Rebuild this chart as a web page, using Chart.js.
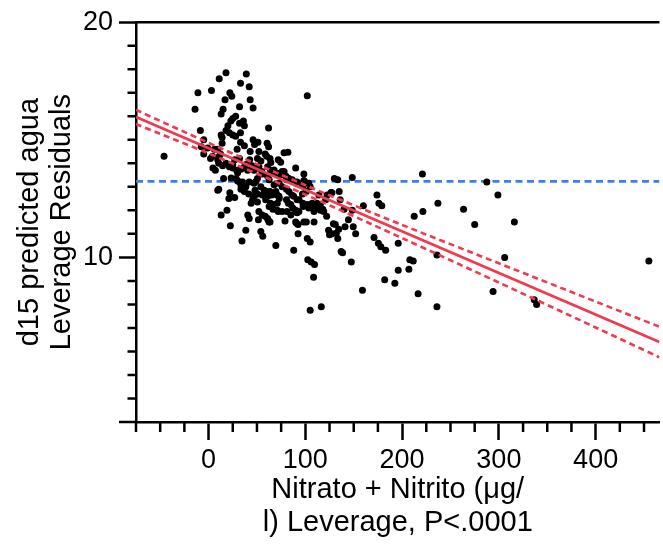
<!DOCTYPE html>
<html>
<head>
<meta charset="utf-8">
<script src="https://cdn.jsdelivr.net/npm/chart.js@4.4.1/dist/chart.umd.min.js"></script>
<style>
html,body{margin:0;padding:0;background:#fff;}
#wrap{width:663px;height:544px;}
</style>
</head>
<body>
<div id="wrap"><canvas id="c" width="663" height="544"></canvas></div>
<script>
// ---- data ----
const xVals = [
-46,-11,-14,-8.5,-5,3,11,18,17,22,24,33,39,42,43,46,32,15,13,62,102,28,25,23,32,36,37,20,18,21.5,25,13,14,46,51,47.5,33,37,60.5,62,-7.5,14,6,29.5,43,52,-1,28,33,9.5,12.3,
58.5,60,78,82,-5,4,2,11,9.5,32,27,42.5,50.5,54,63.5,72,74.5,90,4.5,7,10.5,14.5,21.5,25,29,37,33.5,45,47,52,55,61,64,68,73,76,80,83,86.5,91.5,97,99.5,15.5,30,35,10.5,33.5,18,25,38.7,40.3,30,23.3,98.5,148.5,130,133.5,75.5,78,80.5,50.5,55.5,61,28.5,221,287.5,
64.3,50.6,67.7,71,78,81.3,98.5,97.7,48.9,62.6,67.7,
103.5,105,73,76,80.5,54,57.5,55.5,48,50.5,47,45.5,50.5,41.5,44,38.5,42,47,33.5,35,37,32,9.5,22,27,21,19,13,22.5,38.5,34.5,56,69.5,51.5,58.5,61.5,63.5,66.5,72,79,88,92.5,90,91,92.5,98.5,101,109,102,105,102.5,106,109.5,108.5,105,116.5,159,147.5,171,175.5,178,183,182,192.5,196,207,
174,176,179,160,127.5,135,136,140,148.5,144.5,149.5,152,141,131,134.5,124,127.5,133.5,137,138.5,122,112,115.5,118,119,122.5,121,114,97,101,93.5,97.5,102,103.5,107,110,109,88,91.5,83,86,80.5,82.5,85,87,90,91.5,69.5,71,63.5,65.5,61,59,64,66.5,71,73,52,55.5,61,62.5,76,81,85,40.5,42,54,
299,237,221.5,212.5,263.5,275,316,196,208,211.5,216.5,236,236,306,294,336.5,339,455,
93.3,97.7,115.6,60.8,72.8,62.6,71,126.5,129,125,132
];
const yVals = [
14.3,17.0,16.3,15.4,15.0,17.1,17.6,17.85,16.7,17.0,16.85,17.4,17.8,17.25,16.7,16.35,16.4,16.3,16.1,15.5,16.87,16.0,15.9,15.8,15.7,15.8,15.6,15.6,15.4,15.3,15.2,15.2,15.1,15.0,14.9,14.8,14.9,14.75,14.85,14.7,14.7,14.85,14.6,14.6,14.5,14.5,14.65,15.15,15.3,14.6,14.4,
14.4,14.3,14.45,14.47,14.4,14.3,14.2,14.3,14.15,14.2,14.15,14.15,14.2,14.1,14.2,14.15,14.05,13.8,13.8,13.7,14.0,13.9,13.85,13.8,13.7,13.85,13.75,13.9,13.7,13.85,13.65,13.85,13.7,13.6,13.5,13.65,13.45,13.35,13.3,13.2,13.1,13.2,13.35,13.25,13.2,12.9,12.9,14.0,13.95,13.95,13.7,13.6,13.37,13.55,13.4,13.35,13.3,13.55,13.65,13.3,13.35,13.55,13.45,13.35,13.55,13.2,
14.03,13.8,13.72,13.58,13.5,13.37,13.27,13.04,13.23,13.3,13.09,
13.15,13.0,13.15,13.0,12.9,13.0,12.85,12.65,12.85,12.7,12.6,12.45,12.35,12.7,12.3,13.0,13.2,13.15,13.05,12.95,12.8,13.2,12.85,12.75,12.55,12.5,12.0,11.8,11.35,11.15,10.7,10.9,10.5,11.6,11.75,11.6,11.5,12.05,11.95,11.55,10.3,11.0,11.5,11.45,11.4,11.5,11.5,11.5,10.8,10.65,9.9,9.8,9.7,9.15,7.75,7.9,8.6,9.8,10.85,10.6,10.45,10.3,9.05,8.9,9.45,9.5,
12.65,12.3,12.2,12.2,12.75,12.8,12.45,12.05,12.0,11.6,11.3,11.0,11.3,11.4,11.2,11.15,11.0,10.8,10.25,10.2,11.75,12.3,12.25,12.05,11.95,12.65,12.45,12.65,12.7,12.8,12.45,12.3,12.25,12.1,12.3,12.1,11.95,12.6,12.45,12.8,12.65,12.45,12.3,12.25,12.1,12.0,11.9,12.8,12.65,12.8,12.65,12.6,12.45,12.3,12.25,12.3,12.5,11.95,11.8,11.65,11.5,11.95,11.95,11.8,11.8,11.65,11.1,
12.65,12.3,11.95,11.75,12.05,11.4,11.5,10.6,9.9,9.85,8.45,10.1,7.9,10.0,8.55,8.2,8.0,9.85,
11.95,12.16,12.0,12.8,12.6,12.16,12.0,12.76,11.43,10.96,11.03
];
// regression fit and confidence curves
const fitX   = [-75, 466];
const fitY   = [15.97, 6.40];
const bandX  = [-75, 0, 100, 200, 300, 400, 466];
const bandUp = [16.27, 14.87, 13.07, 11.38, 9.75, 8.12, 7.05];
const bandLo = [15.67, 14.42, 12.67, 10.82, 8.93, 7.02, 5.75];
const meanX  = [-75, 466];
const meanY  = [13.23, 13.23];
// ticks
const xTicks = [0, 100, 200, 300, 400];
const xMinor = [-75, -50, -25, 25, 50, 75, 125, 150, 175, 225, 250, 275, 325, 350, 375, 425, 450];
const yTicks = [10, 20];
const yMinor = [4, 5, 6, 7, 8, 9, 11, 12, 13, 14, 15, 16, 17, 18, 19];
const xTitle = ['Nitrato + Nitrito (\u03bcg/', 'l) Leverage, P<.0001'];
const yTitle = ['d15 predicted agua', 'Leverage Residuals'];

const RED = '#ef3a4f';
const BLUE = '#3a7ff0';
const FONT = '"Liberation Sans", Arial, Helvetica, sans-serif';

const pts = xVals.map((x, i) => ({x: x, y: yVals[i]}));
const toXY = (xs, ys) => xs.map((x, i) => ({x: x, y: ys[i]}));

const extraAxis = {
  id: 'extraAxis',
  afterDraw(chart) {
    const {ctx, chartArea: ca, scales: {x, y}} = chart;
    ctx.save();
    ctx.strokeStyle = '#000';
    ctx.lineWidth = 2.5;
    ctx.beginPath();
    xMinor.forEach(v => {
      const px = x.getPixelForValue(v);
      ctx.moveTo(px, ca.bottom);
      ctx.lineTo(px, ca.bottom + 10);
    });
    yMinor.forEach(v => {
      const py = y.getPixelForValue(v);
      ctx.moveTo(ca.left, py);
      ctx.lineTo(ca.left - 8.5, py);
    });
    const pb = y.getPixelForValue(3);
    ctx.moveTo(ca.left, pb);
    ctx.lineTo(ca.left - 17, pb);
    ctx.moveTo(ca.left, ca.top);
    ctx.lineTo(ca.right, ca.top);
    ctx.stroke();
    ctx.restore();
  }
};

new Chart(document.getElementById('c'), {
  type: 'scatter',
  data: {
    datasets: [
      {data: pts, pointRadius: 3.5, pointHoverRadius: 3.5, backgroundColor: '#000', borderWidth: 0, order: 1},
      {type: 'line', data: toXY(fitX, fitY), borderColor: RED, borderWidth: 2.8, pointRadius: 0, fill: false, order: 0},
      {type: 'line', data: toXY(bandX, bandUp), borderColor: RED, borderWidth: 2.6, borderDash: [6, 4], pointRadius: 0, fill: false, tension: 0.3, order: 0},
      {type: 'line', data: toXY(bandX, bandLo), borderColor: RED, borderWidth: 2.6, borderDash: [6, 4], pointRadius: 0, fill: false, tension: 0.3, order: 0},
      {type: 'line', data: toXY(meanX, meanY), borderColor: BLUE, borderWidth: 2.6, borderDash: [7, 4.5], pointRadius: 0, fill: false, order: 2}
    ]
  },
  options: {
    responsive: false,
    animation: false,
    devicePixelRatio: 1,
    layout: {padding: {top: 22, right: 0, bottom: 0, left: 0}},
    plugins: {legend: {display: false}, tooltip: {enabled: false}},
    scales: {
      x: {
        type: 'linear', min: -75, max: 466,
        afterBuildTicks: s => { s.ticks = xTicks.map(v => ({value: v})); },
        afterFit: s => { s.height = 122; },
        ticks: {color: '#000', font: {family: FONT, size: 27}, padding: 4, maxRotation: 0, autoSkip: false},
        grid: {drawOnChartArea: false, drawTicks: true, tickLength: 18, tickWidth: 2.5, tickColor: '#000'},
        border: {display: true, color: '#000', width: 2.5},
        title: {display: true, text: xTitle, color: '#000', font: {family: FONT, size: 29, lineHeight: 1.12}, padding: {top: 0, bottom: 5}}
      },
      y: {
        type: 'linear', min: 3, max: 20,
        afterBuildTicks: s => { s.ticks = yTicks.map(v => ({value: v})); },
        afterFit: s => { s.width = 136; },
        ticks: {color: '#000', font: {family: FONT, size: 27}, padding: 6, autoSkip: false},
        grid: {drawOnChartArea: false, drawTicks: true, tickLength: 17, tickWidth: 2.5, tickColor: '#000'},
        border: {display: true, color: '#000', width: 2.5},
        title: {display: true, text: yTitle, color: '#000', font: {family: FONT, size: 29, lineHeight: 1.1}, padding: {top: 14, bottom: 0}}
      }
    }
  },
  plugins: [extraAxis]
});
</script>
</body>
</html>
